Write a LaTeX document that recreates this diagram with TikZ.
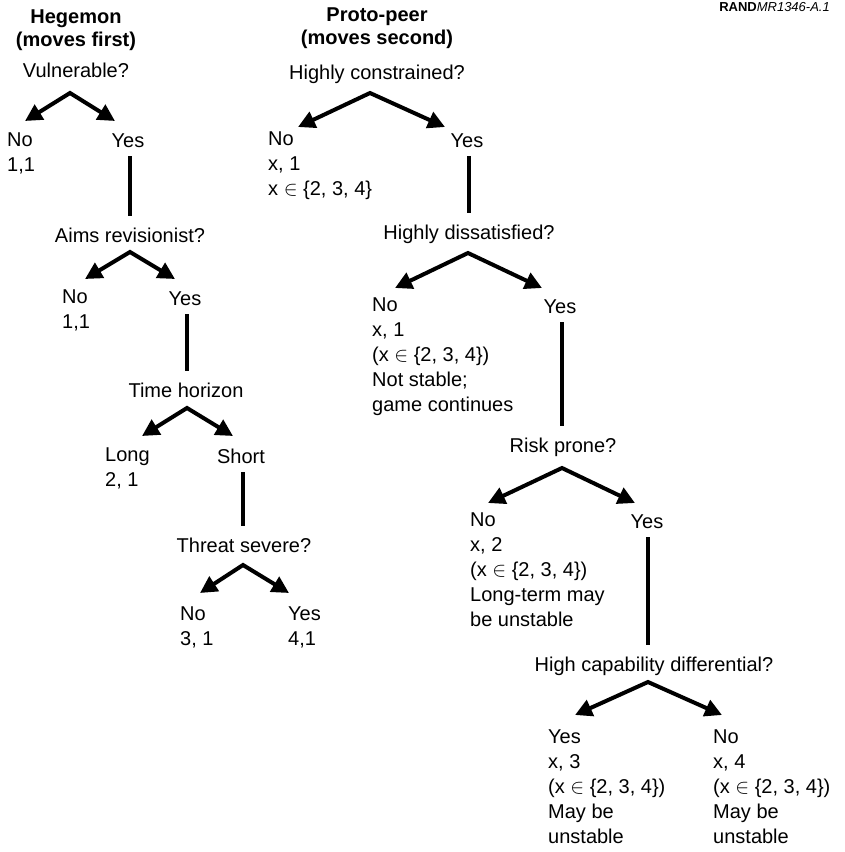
\documentclass[tikz,border=0pt]{standalone}
\usepackage{fontspec}
\setmainfont{Liberation Sans}
\usepackage{tikz}
\usetikzlibrary{arrows.meta,calc}
\newcommand{\txtsize}{\fontsize{20}{25}\selectfont}
\tikzstyle{quest} = [font=\txtsize, inner sep=0pt, anchor=base]
\tikzstyle{leaf} = [font=\txtsize, inner sep=0pt, anchor=north west, align=left]
\tikzstyle{head} = [font={\fontsize{20}{23}\selectfont\bfseries}, inner sep=0pt, anchor=north, align=center]
\tikzstyle{fork} = [line width=4pt, line join=miter, {Triangle[length=17pt,width=17pt]}-{Triangle[length=17pt,width=17pt]}]
\tikzstyle{stem} = [line width=4pt, shorten <=9pt, shorten >=12pt]

\begin{document}
\begin{tikzpicture}[x=1pt,y=-1pt]
\useasboundingbox (0,0) rectangle (844,852);
\node (fig) [anchor=base east, inner sep=0pt, font=\fontsize{13}{15}\selectfont] at (830,11) {\textbf{RAND}\textit{MR1346-A.1}};

% hegemon side
\node (heg) [head] at (76,10) {Hegemon\\(moves first)};
\node (vul) [quest] at (76,77) {Vulnerable?};
\node (noA) [leaf] at (7,133) {No\\1,1};
\node (yesA) [quest] at (128,147) {Yes};
\node (aims) [quest] at (130,242.5) {Aims revisionist?};
\node (noB) [leaf] at (62,290) {No\\1,1};
\node (yesB) [quest] at (185,305) {Yes};
\node (hor) [quest] at (186,397.5) {Time horizon};
\node (long) [leaf] at (105,448) {Long\\2, 1};
\node (short) [quest] at (241,463) {Short};
\node (thr) [quest] at (244,552.5) {Threat severe?};
\node (noC) [leaf] at (180,607) {No\\3, 1};
\node (yesC) [leaf] at (288,607) {Yes\\4,1};

% proto-peer side
\node (peer) [head] at (377,8) {Proto-peer\\(moves second)};
\node (con) [quest] at (377,79.5) {Highly constrained?};
\node (noD) [leaf] at (268,132) {No\\x, 1\\x $\in$ \{2, 3, 4\}};
\node (yesD) [quest] at (467,147) {Yes};
\node (dis) [quest] at (469,239.5) {Highly dissatisfied?};
\node (noE) [leaf] at (372,298) {No\\x, 1\\(x $\in$ \{2, 3, 4\})\\Not stable;\\game continues};
\node (yesE) [quest] at (560,313) {Yes};
\node (risk) [quest] at (563,452.5) {Risk prone?};
\node (noF) [leaf] at (470,513) {No\\x, 2\\(x $\in$ \{2, 3, 4\})\\Long-term may\\be unstable};
\node (yesF) [quest] at (647,528) {Yes};
\node (cap) [quest] at (654,671.5) {High capability differential?};
\node (yesG) [leaf] at (548,730) {Yes\\x, 3\\(x $\in$ \{2, 3, 4\})\\May be\\unstable};
\node (noG) [leaf] at (713,730) {No\\x, 4\\(x $\in$ \{2, 3, 4\})\\May be\\unstable};

% fork points
\coordinate (vulL) at (25,121);  \coordinate (vulT) at (70,93);   \coordinate (vulR) at (115,121);
\coordinate (aimsL) at (85,279); \coordinate (aimsT) at (130,252); \coordinate (aimsR) at (175,279);
\coordinate (horL) at (142,436); \coordinate (horT) at (187,408);  \coordinate (horR) at (233,436);
\coordinate (thrL) at (200,593); \coordinate (thrT) at (243,565);  \coordinate (thrR) at (289,593);
\coordinate (conL) at (298,127); \coordinate (conT) at (370,93);   \coordinate (conR) at (445,127);
\coordinate (disL) at (395,288); \coordinate (disT) at (468,253);  \coordinate (disR) at (542,288);
\coordinate (riskL) at (488,503); \coordinate (riskT) at (562,468); \coordinate (riskR) at (635,503);
\coordinate (capL) at (575,715); \coordinate (capT) at (648,682);  \coordinate (capR) at (722,715);

\foreach \q in {vul,aims,hor,thr,con,dis,risk,cap}
  \draw [fork] (\q L) -- (\q T) -- (\q R);

\draw [stem] ($(yesA.base)+(2,0)$) -- ($(yesA.base |- aims.north)+(2,0)$);
\draw [stem] ($(yesB.base)+(2,0)$) -- ($(yesB.base |- hor.north)+(2,0)$);
\draw [stem] ($(short.base)+(2,0)$) -- ($(short.base |- thr.north)+(2,0)$);
\draw [stem] ($(yesD.base)+(2,0)$) -- ($(yesD.base |- dis.north)+(2,0)$);
\draw [stem] ($(yesE.base)+(2,0)$) -- ($(yesE.base |- risk.north)+(2,0)$);
\draw [stem] ($(yesF.base)+(1,0)$) -- ($(yesF.base |- cap.north)+(1,0)$);
\end{tikzpicture}
\end{document}
